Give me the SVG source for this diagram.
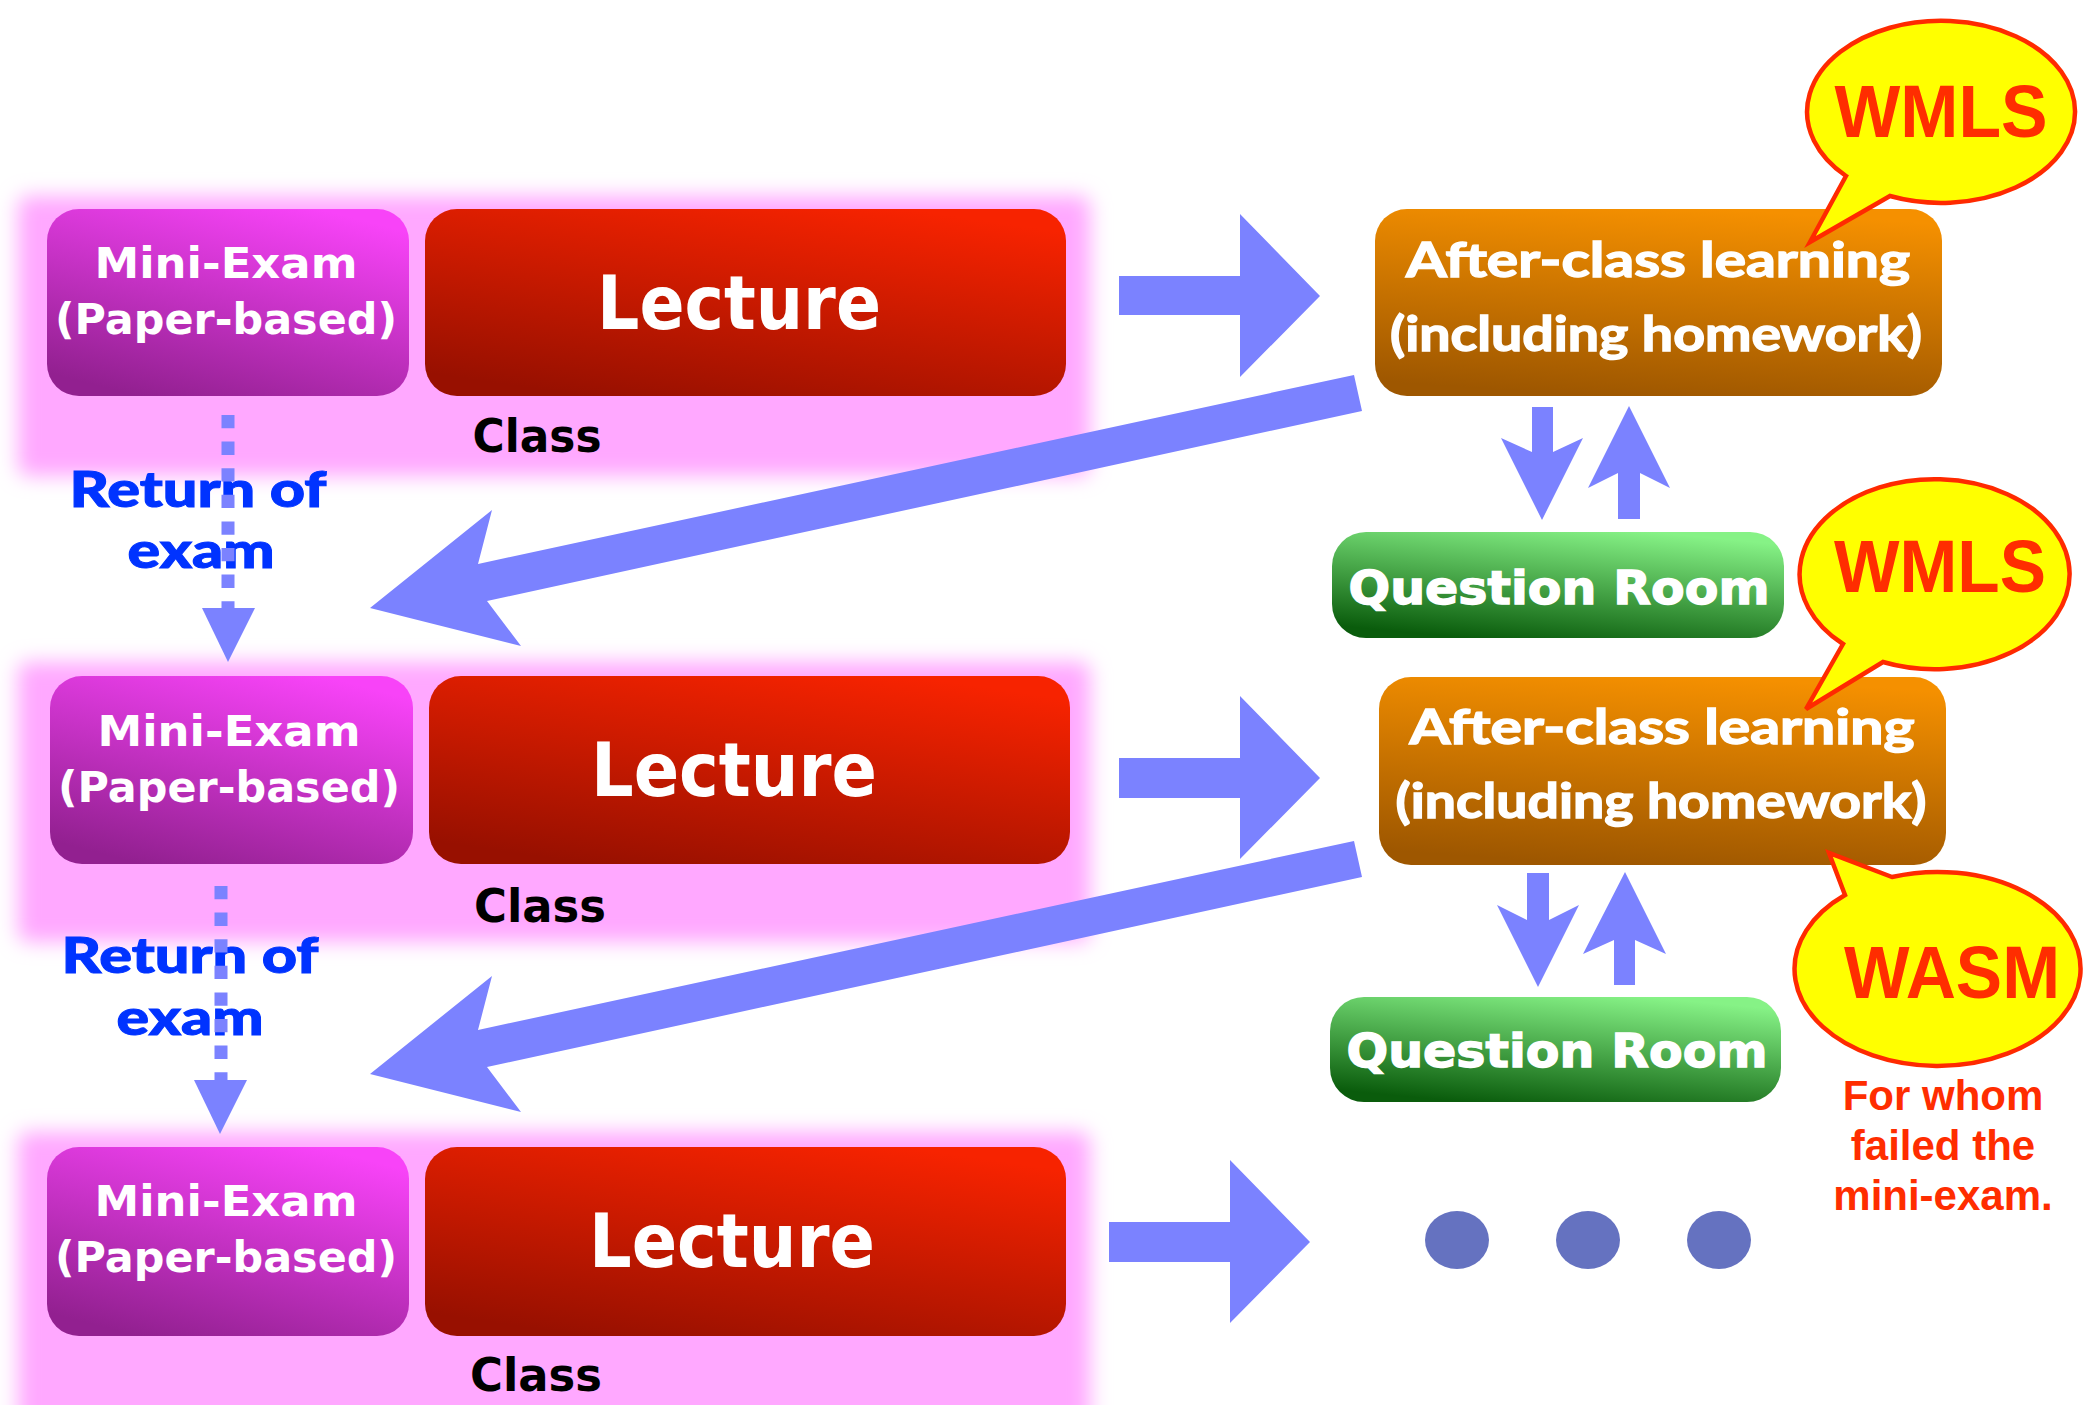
<svg xmlns="http://www.w3.org/2000/svg" width="2084" height="1405" viewBox="0 0 2084 1405">
<defs>
  <filter id="blur" x="-10%" y="-20%" width="120%" height="140%">
    <feGaussianBlur stdDeviation="10"/>
  </filter>
  <linearGradient id="gMini" x1="0.25" y1="1" x2="0.75" y2="0">
    <stop offset="0" stop-color="#922090"/>
    <stop offset="1" stop-color="#F843F8"/>
  </linearGradient>
  <linearGradient id="gLect" x1="0.25" y1="1" x2="0.75" y2="0">
    <stop offset="0" stop-color="#981000"/>
    <stop offset="1" stop-color="#F72300"/>
  </linearGradient>
  <linearGradient id="gAfter" x1="0.4" y1="1" x2="0.6" y2="0">
    <stop offset="0" stop-color="#9E5700"/>
    <stop offset="1" stop-color="#F59000"/>
  </linearGradient>
  <linearGradient id="gQR" x1="0.3" y1="1" x2="0.7" y2="0">
    <stop offset="0" stop-color="#0A5C0C"/>
    <stop offset="1" stop-color="#86F286"/>
  </linearGradient>
  <style>
    .glow { fill: #FFA8FF; filter: url(#blur); }
    .mini { fill: url(#gMini); }
    .lect { fill: url(#gLect); }
    .after { fill: url(#gAfter); }
    .qr { fill: url(#gQR); }
    .vt { font-family: "DejaVu Sans", Verdana, sans-serif; font-weight: bold; text-anchor: middle; }
    .gt { font-family: Lato, "Open Sans", sans-serif; font-weight: 700; text-anchor: middle; }
    .gb { font-family: Lato, "Open Sans", sans-serif; font-weight: 900; text-anchor: middle; }
    .at { font-family: "Liberation Sans", Arial, sans-serif; font-weight: bold; text-anchor: middle; fill: #FF2D00; }
    .w { fill: #FFFFFF; }
    .ws { fill: #FFFFFF; stroke: #FFFFFF; stroke-width: 1.4; }
    .bs { fill: #0033FF; stroke: #0033FF; stroke-width: 1; }
    .arrow { fill: #7B82FF; stroke: none; }
    .dash { stroke: #7B82FF; stroke-width: 13; stroke-dasharray: 13.3 13.3; fill: none; }
    .bubble { fill: #FFFF00; stroke: #FF2A00; stroke-width: 4.5; stroke-linejoin: miter; }
    .dot { fill: #6572C0; }
  </style>
</defs>

<rect width="2084" height="1405" fill="#FFFFFF"/>

<g id="glows">
  <rect class="glow" x="18" y="196" width="1072" height="280" rx="10"/>
  <rect class="glow" x="18" y="662" width="1072" height="280" rx="10"/>
  <rect class="glow" x="18" y="1132" width="1072" height="300" rx="10"/>
</g>

<g id="row1-mini">
  <rect class="mini" x="47" y="209" width="362" height="187" rx="32"/>
  <text class="vt w" x="226" y="278" font-size="43" textLength="263" lengthAdjust="spacingAndGlyphs">Mini-Exam</text>
  <text class="vt w" x="226" y="334" font-size="43" textLength="342" lengthAdjust="spacingAndGlyphs">(Paper-based)</text>
</g>
<g id="row1-lecture">
  <rect class="lect" x="425" y="209" width="641" height="187" rx="32"/>
  <text class="vt w" x="739" y="329" font-size="74" textLength="284" lengthAdjust="spacingAndGlyphs">Lecture</text>
</g>
<g id="row1-class"><text class="vt" x="537" y="452" font-size="46" fill="#000" textLength="129" lengthAdjust="spacingAndGlyphs">Class</text></g>

<g id="row2-mini">
  <rect class="mini" x="50" y="676" width="363" height="188" rx="32"/>
  <text class="vt w" x="229" y="746" font-size="43" textLength="263" lengthAdjust="spacingAndGlyphs">Mini-Exam</text>
  <text class="vt w" x="229" y="802" font-size="43" textLength="342" lengthAdjust="spacingAndGlyphs">(Paper-based)</text>
</g>
<g id="row2-lecture">
  <rect class="lect" x="429" y="676" width="641" height="188" rx="32"/>
  <text class="vt w" x="734" y="796" font-size="74" textLength="286" lengthAdjust="spacingAndGlyphs">Lecture</text>
</g>
<g id="row2-class"><text class="vt" x="540" y="922" font-size="46" fill="#000" textLength="132" lengthAdjust="spacingAndGlyphs">Class</text></g>

<g id="row3-mini">
  <rect class="mini" x="47" y="1147" width="362" height="189" rx="32"/>
  <text class="vt w" x="226" y="1216" font-size="43" textLength="263" lengthAdjust="spacingAndGlyphs">Mini-Exam</text>
  <text class="vt w" x="226" y="1272" font-size="43" textLength="342" lengthAdjust="spacingAndGlyphs">(Paper-based)</text>
</g>
<g id="row3-lecture">
  <rect class="lect" x="425" y="1147" width="641" height="189" rx="32"/>
  <text class="vt w" x="732" y="1267" font-size="74" textLength="286" lengthAdjust="spacingAndGlyphs">Lecture</text>
</g>
<g id="row3-class"><text class="vt" x="536" y="1391" font-size="46" fill="#000" textLength="132" lengthAdjust="spacingAndGlyphs">Class</text></g>

<g id="after1">
  <rect class="after" x="1375" y="209" width="567" height="187" rx="32"/>
  <text class="gt ws" x="1658" y="277" font-size="47" textLength="504" lengthAdjust="spacingAndGlyphs">After-class learning</text>
  <text class="gt ws" x="1656" y="351" font-size="47" textLength="532" lengthAdjust="spacingAndGlyphs">(including homework)</text>
</g>
<g id="qr1">
  <rect class="qr" x="1332" y="532" width="452" height="106" rx="34"/>
  <text class="vt ws" x="1559" y="604" font-size="47" textLength="421" lengthAdjust="spacingAndGlyphs">Question Room</text>
</g>
<g id="after2">
  <rect class="after" x="1379" y="677" width="567" height="188" rx="32"/>
  <text class="gt ws" x="1662" y="744" font-size="47" textLength="505" lengthAdjust="spacingAndGlyphs">After-class learning</text>
  <text class="gt ws" x="1661" y="818" font-size="47" textLength="531" lengthAdjust="spacingAndGlyphs">(including homework)</text>
</g>
<g id="qr2">
  <rect class="qr" x="1330" y="997" width="451" height="105" rx="34"/>
  <text class="vt ws" x="1557" y="1067" font-size="47" textLength="421" lengthAdjust="spacingAndGlyphs">Question Room</text>
</g>

<g id="return1">
  <text class="gb bs" x="198" y="507" font-size="50" textLength="257" lengthAdjust="spacingAndGlyphs">Return of</text>
  <text class="gb bs" x="201" y="568" font-size="50" textLength="147" lengthAdjust="spacingAndGlyphs">exam</text>
</g>
<g id="return2">
  <text class="gb bs" x="190" y="973" font-size="50" textLength="257" lengthAdjust="spacingAndGlyphs">Return of</text>
  <text class="gb bs" x="190" y="1035" font-size="50" textLength="147" lengthAdjust="spacingAndGlyphs">exam</text>
</g>

<g id="connectors">
  <polygon class="arrow" points="1119,276 1240,276 1240,214 1320,296 1240,377 1240,315 1119,315"/>
  <polygon class="arrow" points="1119,758 1240,758 1240,696 1320,778 1240,859 1240,798 1119,798"/>
  <polygon class="arrow" points="1109,1222 1230,1222 1230,1160 1310,1242 1230,1323 1230,1262 1109,1262"/>
  <polygon class="arrow" points="1354,375 1362,411 487,601 521,646 370,608 492,510 478,564"/>
  <polygon class="arrow" points="1354,841 1362,877 487,1067 521,1112 370,1074 492,976 478,1030"/>
  <polygon class="arrow" points="1532,407 1553,407 1553,452 1583,438 1542,520 1501,438 1532,452"/>
  <polygon class="arrow" points="1618,519 1640,519 1640,473 1670,488 1629,406 1588,488 1618,473"/>
  <polygon class="arrow" points="1527,873 1549,873 1549,920 1579,905 1538,987 1497,905 1527,920"/>
  <polygon class="arrow" points="1614,985 1635,985 1635,940 1666,954 1625,872 1583,954 1614,940"/>
  <line class="dash" x1="228" y1="415" x2="228" y2="610"/>
  <polygon class="arrow" points="202,608 255,608 228,662"/>
  <line class="dash" x1="221" y1="886" x2="221" y2="1082"/>
  <polygon class="arrow" points="194,1080 247,1080 220,1134"/>
</g>

<g id="bubble-wmls1">
  <path class="bubble" d="M1846,176 L1810,242 L1890,196 A134 91 0 1 0 1846,176 Z"/>
  <text class="at" x="1941" y="137" font-size="74" textLength="213" lengthAdjust="spacingAndGlyphs">WMLS</text>
</g>
<g id="bubble-wmls2">
  <path class="bubble" d="M1843,644 L1806,709 L1883,662 A135 95 0 1 0 1843,644 Z"/>
  <text class="at" x="1940" y="592" font-size="74" textLength="212" lengthAdjust="spacingAndGlyphs">WMLS</text>
</g>
<g id="bubble-wasm">
  <path class="bubble" d="M1845,895 L1829,853 L1892,877 A143 97 0 1 1 1845,895 Z"/>
  <text class="at" x="1952" y="998" font-size="74" textLength="216" lengthAdjust="spacingAndGlyphs">WASM</text>
</g>
<g id="note">
  <text class="at" x="1943" y="1110" font-size="42">For whom</text>
  <text class="at" x="1943" y="1160" font-size="42">failed the</text>
  <text class="at" x="1943" y="1210" font-size="42">mini-exam.</text>
</g>

<g id="dots">
  <ellipse class="dot" cx="1457" cy="1240" rx="32" ry="29"/>
  <ellipse class="dot" cx="1588" cy="1240" rx="32" ry="29"/>
  <ellipse class="dot" cx="1719" cy="1240" rx="32" ry="29"/>
</g>
</svg>
